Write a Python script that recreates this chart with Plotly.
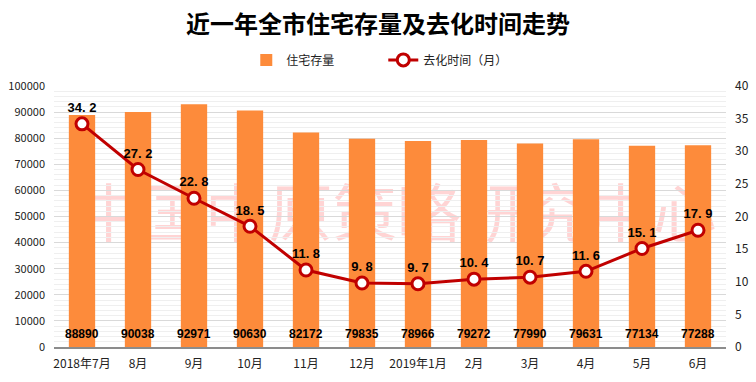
import plotly.graph_objects as go

months = ["2018年7月", "8月", "9月", "10月", "11月", "12月", "2019年1月", "2月", "3月", "4月", "5月", "6月"]
stock = [88890, 90038, 92971, 90630, 82172, 79835, 78966, 79272, 77990, 79631, 77134, 77288]
months_to_clear = [34.2, 27.2, 22.8, 18.5, 11.8, 9.8, 9.7, 10.4, 10.7, 11.6, 15.1, 17.9]
watermark = "中国中原策略研究中心"

font_cn = "Microsoft YaHei, Noto Sans CJK SC, sans-serif"
label_font = dict(color="black", size=12, family="Liberation Sans, Arial, sans-serif", weight="bold")

fig = go.Figure()
fig.add_trace(go.Bar(
    x=months, y=stock, name="住宅存量",
    marker=dict(color="#fd8b3b", line=dict(width=0)),
    yaxis="y",
))
fig.add_trace(go.Scatter(
    x=months, y=months_to_clear, name="去化时间（月）", yaxis="y2",
    mode="lines+markers+text",
    line=dict(color="#c00000", width=3),
    marker=dict(size=12, color="white", line=dict(color="#c00000", width=3)),
    text=[f"{v:.1f}".replace(".", ". ") for v in months_to_clear],
    textposition="top center",
    textfont=dict(label_font, size=13),
    cliponaxis=False,
))

# bar value labels near the bar base
annotations = [dict(x=m, y=5000, xref="x", yref="y", text=str(v), showarrow=False,
                    font=label_font, yanchor="middle")
               for m, v in zip(months, stock)]

fig.update_layout(
    width=756, height=382,
    margin=dict(l=54, r=30, t=86, b=35),
    paper_bgcolor="white", plot_bgcolor="white",
    font=dict(family=font_cn, size=12, color="#333"),
    title=dict(text="<b>近一年全市住宅存量及去化时间走势</b>", x=0.5, xanchor="center",
               y=0.935, yanchor="middle",
               font=dict(size=24, color="black", family=font_cn)),
    legend=dict(orientation="h", x=0.49, xanchor="center", y=1.1, yanchor="middle",
                font=dict(size=12, color="#222"), itemwidth=30, entrywidth=92,
                traceorder="normal"),
    bargap=0.53,
    xaxis=dict(range=[-0.5, len(months) - 0.5], showgrid=False, showline=True,
               linecolor="#8c8c8c", linewidth=2, ticklabelstandoff=5,
               ticks="", tickfont=dict(size=12, color="#222"), automargin=False),
    yaxis=dict(range=[0, 100000], dtick=10000, tickformat="d", showgrid=True, gridcolor="#d9d9d9",
               minor=dict(dtick=2000, showgrid=True, gridcolor="#efefef"),
               zeroline=False, ticks="", tickfont=dict(size=11, color="#222"),
               ticklabelstandoff=8, automargin=False),
    yaxis2=dict(range=[0, 40], dtick=5, overlaying="y", side="right", showgrid=False,
                zeroline=False, ticks="", tickfont=dict(size=12, color="#222"),
                ticklabelstandoff=8, automargin=False),
    annotations=annotations,
    shapes=[dict(type="rect", xref="paper", yref="paper", x0=0.05, x1=0.97, y0=0.24, y1=0.74,
                 line=dict(width=0), fillcolor="rgba(0,0,0,0)", layer="below",
                 label=dict(text=watermark, textposition="middle center",
                            font=dict(size=64, color="rgba(255,170,170,0.5)", family=font_cn)))],
)

fig.write_html("out.html", config={"displayModeBar": False},
               post_script="document.body.style.margin='0';")
